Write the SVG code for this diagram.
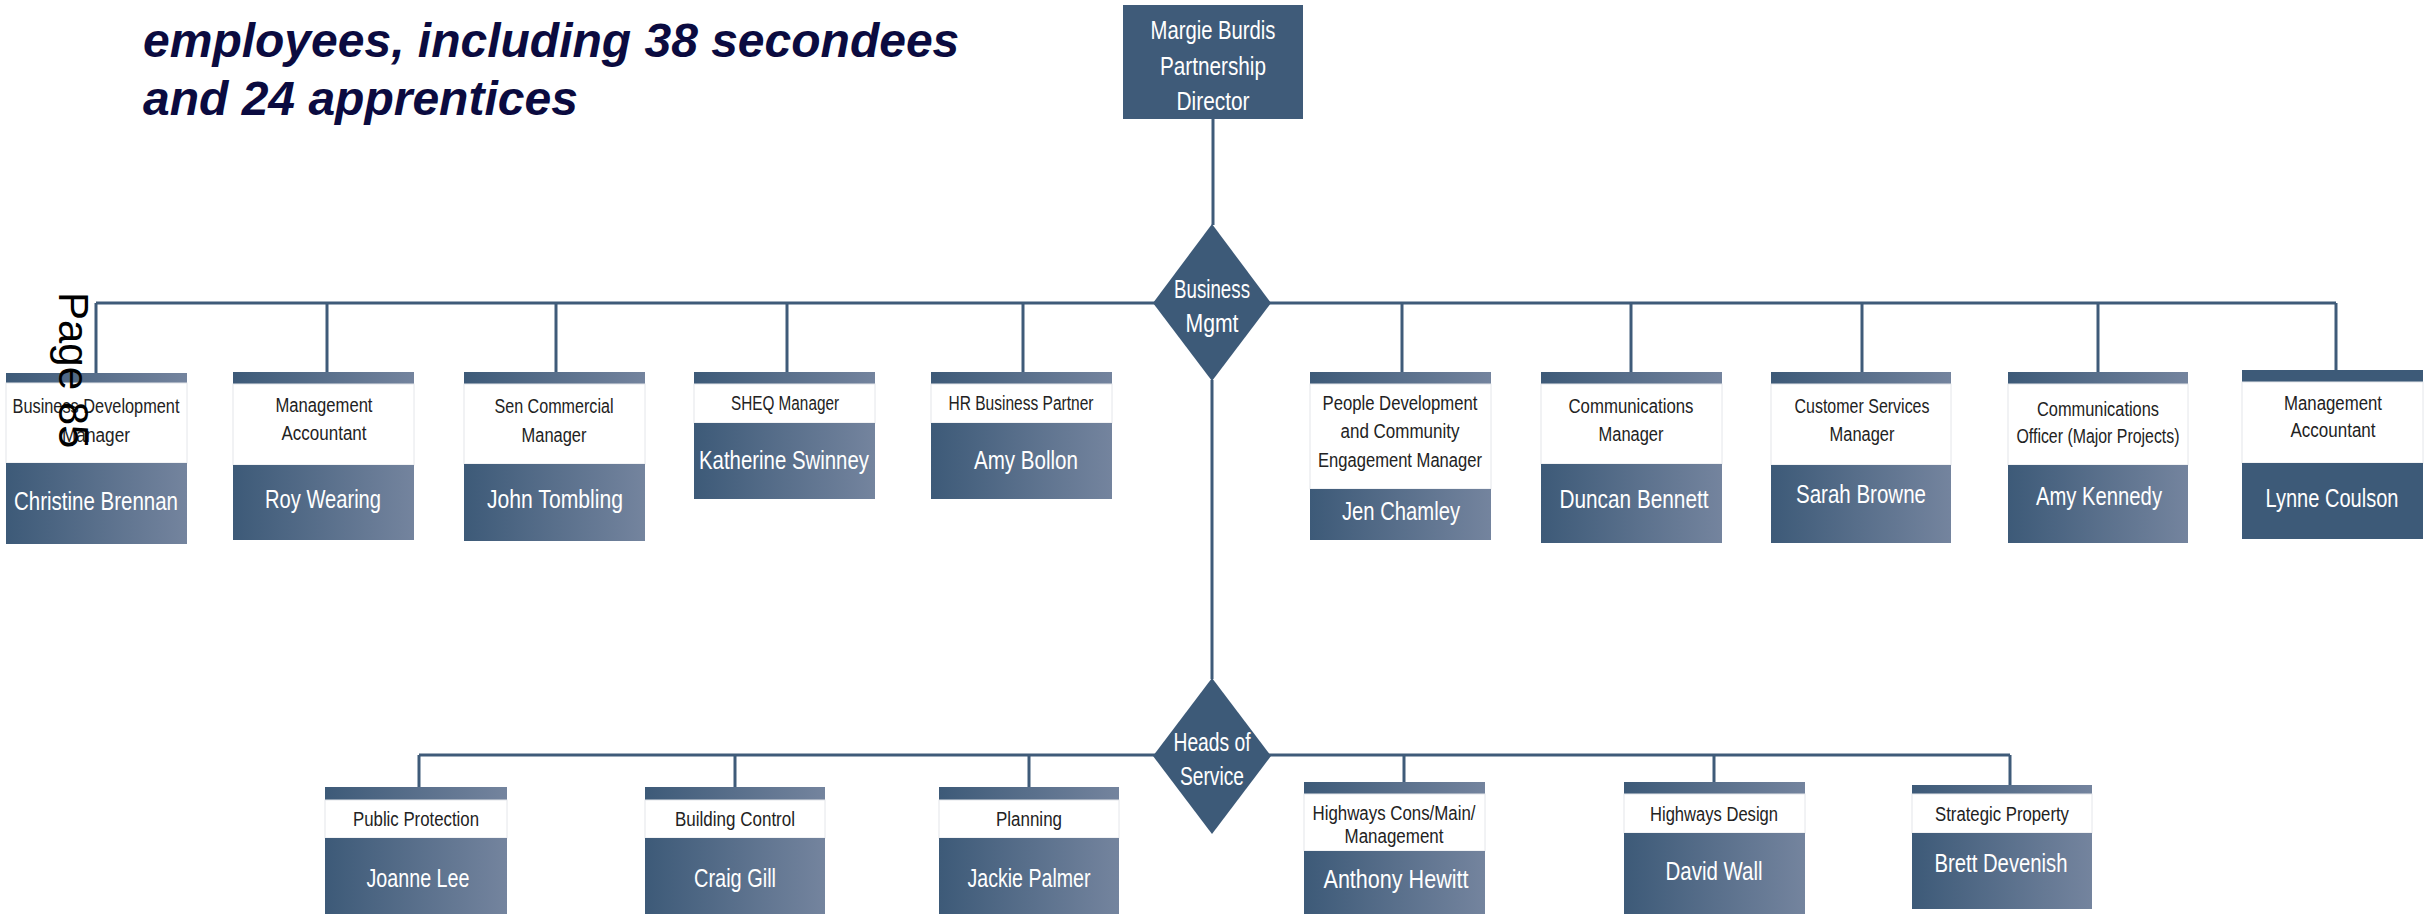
<svg xmlns="http://www.w3.org/2000/svg" width="2435" height="914" viewBox="0 0 2435 914">
<defs>
<linearGradient id="grad" x1="0" y1="0" x2="1" y2="0">
<stop offset="0" stop-color="#3d5a78"/>
<stop offset="1" stop-color="#74849e"/>
</linearGradient>
<style>
.bg{fill:#ffffff}
.ln{stroke:#3f5b79;stroke-width:3;fill:none}
.bar{fill:url(#grad)}
.dk{fill:url(#grad)}
.solid{fill:#3d5a78}
.wh{fill:#ffffff;stroke:#e4e6ea;stroke-width:1}
.tt{font-family:"Liberation Sans",Arial,sans-serif;font-size:20px;fill:#222222;text-anchor:middle}
.nm{font-family:"Liberation Sans",Arial,sans-serif;font-size:25px;fill:#ffffff;text-anchor:middle}
.dia{fill:#3d5a78}
.head{font-family:"Liberation Sans",Arial,sans-serif;font-weight:bold;font-style:italic;font-size:48px;fill:#0b0b40}
.page{font-family:"Liberation Sans",Arial,sans-serif;font-size:42px;fill:#000000}
</style>
</defs>
<rect class="bg" x="0" y="0" width="2435" height="914"/>

<g id="heading">
<text class="head" x="143" y="57">employees, including 38 secondees</text>
<text class="head" x="143" y="115">and 24 apprentices</text>
</g>

<g id="connectors">
<line class="ln" x1="1213" y1="119" x2="1213" y2="225"/>
<line class="ln" x1="96" y1="303" x2="2336" y2="303"/>
<line class="ln" x1="96" y1="303" x2="96" y2="373"/>
<line class="ln" x1="327" y1="303" x2="327" y2="372"/>
<line class="ln" x1="556" y1="303" x2="556" y2="372"/>
<line class="ln" x1="787" y1="303" x2="787" y2="372"/>
<line class="ln" x1="1023" y1="303" x2="1023" y2="372"/>
<line class="ln" x1="1402" y1="303" x2="1402" y2="372"/>
<line class="ln" x1="1631" y1="303" x2="1631" y2="372"/>
<line class="ln" x1="1862" y1="303" x2="1862" y2="372"/>
<line class="ln" x1="2098" y1="303" x2="2098" y2="372"/>
<line class="ln" x1="2336" y1="303" x2="2336" y2="370"/>
<line class="ln" x1="1212" y1="380" x2="1212" y2="679"/>
<line class="ln" x1="419" y1="755" x2="2010" y2="755"/>
<line class="ln" x1="419" y1="755" x2="419" y2="787"/>
<line class="ln" x1="735" y1="755" x2="735" y2="787"/>
<line class="ln" x1="1029" y1="755" x2="1029" y2="787"/>
<line class="ln" x1="1404" y1="755" x2="1404" y2="782"/>
<line class="ln" x1="1714" y1="755" x2="1714" y2="782"/>
<line class="ln" x1="2010" y1="755" x2="2010" y2="785"/>
</g>

<g id="director">
<rect x="1123" y="5" width="180" height="114" fill="#3f5b79"/>
<text class="nm" x="1213" y="39" textLength="125" lengthAdjust="spacingAndGlyphs">Margie Burdis</text>
<text class="nm" x="1213" y="75" textLength="106" lengthAdjust="spacingAndGlyphs">Partnership</text>
<text class="nm" x="1213" y="110" textLength="73" lengthAdjust="spacingAndGlyphs">Director</text>
</g>

<g id="business-mgmt">
<polygon class="dia" points="1212,224 1271,303 1212,381 1153,303"/>
<text class="nm" x="1212" y="298" textLength="76" lengthAdjust="spacingAndGlyphs">Business</text>
<text class="nm" x="1212" y="332" textLength="53" lengthAdjust="spacingAndGlyphs">Mgmt</text>
</g>

<g id="heads-of-service">
<polygon class="dia" points="1212,678 1271,756 1212,834 1153,756"/>
<text class="nm" x="1212" y="751" textLength="77" lengthAdjust="spacingAndGlyphs">Heads of</text>
<text class="nm" x="1212" y="785" textLength="64" lengthAdjust="spacingAndGlyphs">Service</text>
</g>

<g id="n-christine">
<rect class="bar" x="6" y="373" width="181" height="10"/>
<rect class="wh" x="6" y="383" width="181" height="80"/>
<rect class="dk" x="6" y="463" width="181" height="81"/>
<text class="tt" x="96" y="413" textLength="167" lengthAdjust="spacingAndGlyphs">Business Development</text>
<text class="tt" x="96" y="442" textLength="68" lengthAdjust="spacingAndGlyphs">Manager</text>
<text class="nm" x="96" y="510" textLength="164" lengthAdjust="spacingAndGlyphs">Christine Brennan</text>
</g>

<g id="n-roy">
<rect class="bar" x="233" y="372" width="181" height="12"/>
<rect class="wh" x="233" y="384" width="181" height="81"/>
<rect class="dk" x="233" y="465" width="181" height="75"/>
<text class="tt" x="324" y="412" textLength="97" lengthAdjust="spacingAndGlyphs">Management</text>
<text class="tt" x="324" y="440" textLength="85" lengthAdjust="spacingAndGlyphs">Accountant</text>
<text class="nm" x="323" y="508" textLength="116" lengthAdjust="spacingAndGlyphs">Roy Wearing</text>
</g>

<g id="n-john">
<rect class="bar" x="464" y="372" width="181" height="12"/>
<rect class="wh" x="464" y="384" width="181" height="80"/>
<rect class="dk" x="464" y="464" width="181" height="77"/>
<text class="tt" x="554" y="413" textLength="119" lengthAdjust="spacingAndGlyphs">Sen Commercial</text>
<text class="tt" x="554" y="442" textLength="65" lengthAdjust="spacingAndGlyphs">Manager</text>
<text class="nm" x="555" y="508" textLength="136" lengthAdjust="spacingAndGlyphs">John Tombling</text>
</g>

<g id="n-katherine">
<rect class="bar" x="694" y="372" width="181" height="12"/>
<rect class="wh" x="694" y="384" width="181" height="39"/>
<rect class="dk" x="694" y="423" width="181" height="76"/>
<text class="tt" x="785" y="410" textLength="108" lengthAdjust="spacingAndGlyphs">SHEQ Manager</text>
<text class="nm" x="784" y="469" textLength="170" lengthAdjust="spacingAndGlyphs">Katherine Swinney</text>
</g>

<g id="n-amy-bollon">
<rect class="bar" x="931" y="372" width="181" height="12"/>
<rect class="wh" x="931" y="384" width="181" height="39"/>
<rect class="dk" x="931" y="423" width="181" height="76"/>
<text class="tt" x="1021" y="410" textLength="145" lengthAdjust="spacingAndGlyphs">HR Business Partner</text>
<text class="nm" x="1026" y="469" textLength="104" lengthAdjust="spacingAndGlyphs">Amy Bollon</text>
</g>

<g id="n-jen">
<rect class="bar" x="1310" y="372" width="181" height="12"/>
<rect class="wh" x="1310" y="384" width="181" height="105"/>
<rect class="dk" x="1310" y="489" width="181" height="51"/>
<text class="tt" x="1400" y="410" textLength="155" lengthAdjust="spacingAndGlyphs">People Development</text>
<text class="tt" x="1400" y="438" textLength="119" lengthAdjust="spacingAndGlyphs">and Community</text>
<text class="tt" x="1400" y="467" textLength="164" lengthAdjust="spacingAndGlyphs">Engagement Manager</text>
<text class="nm" x="1401" y="520" textLength="118" lengthAdjust="spacingAndGlyphs">Jen Chamley</text>
</g>

<g id="n-duncan">
<rect class="bar" x="1541" y="372" width="181" height="12"/>
<rect class="wh" x="1541" y="384" width="181" height="80"/>
<rect class="dk" x="1541" y="464" width="181" height="79"/>
<text class="tt" x="1631" y="413" textLength="125" lengthAdjust="spacingAndGlyphs">Communications</text>
<text class="tt" x="1631" y="441" textLength="65" lengthAdjust="spacingAndGlyphs">Manager</text>
<text class="nm" x="1634" y="508" textLength="149" lengthAdjust="spacingAndGlyphs">Duncan Bennett</text>
</g>

<g id="n-sarah">
<rect class="bar" x="1771" y="372" width="180" height="12"/>
<rect class="wh" x="1771" y="384" width="180" height="81"/>
<rect class="dk" x="1771" y="465" width="180" height="78"/>
<text class="tt" x="1862" y="413" textLength="135" lengthAdjust="spacingAndGlyphs">Customer Services</text>
<text class="tt" x="1862" y="441" textLength="65" lengthAdjust="spacingAndGlyphs">Manager</text>
<text class="nm" x="1861" y="503" textLength="130" lengthAdjust="spacingAndGlyphs">Sarah Browne</text>
</g>

<g id="n-amy-kennedy">
<rect class="bar" x="2008" y="372" width="180" height="12"/>
<rect class="wh" x="2008" y="384" width="180" height="81"/>
<rect class="dk" x="2008" y="465" width="180" height="78"/>
<text class="tt" x="2098" y="416" textLength="122" lengthAdjust="spacingAndGlyphs">Communications</text>
<text class="tt" x="2098" y="443" textLength="163" lengthAdjust="spacingAndGlyphs">Officer (Major Projects)</text>
<text class="nm" x="2099" y="505" textLength="126" lengthAdjust="spacingAndGlyphs">Amy Kennedy</text>
</g>

<g id="n-lynne">
<rect class="solid" x="2242" y="370" width="181" height="12"/>
<rect class="wh" x="2242" y="382" width="181" height="81"/>
<rect class="solid" x="2242" y="463" width="181" height="76"/>
<text class="tt" x="2333" y="410" textLength="98" lengthAdjust="spacingAndGlyphs">Management</text>
<text class="tt" x="2333" y="437" textLength="85" lengthAdjust="spacingAndGlyphs">Accountant</text>
<text class="nm" x="2332" y="507" textLength="133" lengthAdjust="spacingAndGlyphs">Lynne Coulson</text>
</g>

<g id="n-joanne">
<rect class="bar" x="325" y="787" width="182" height="13"/>
<rect class="wh" x="325" y="800" width="182" height="38"/>
<rect class="dk" x="325" y="838" width="182" height="90"/>
<text class="tt" x="416" y="826" textLength="126" lengthAdjust="spacingAndGlyphs">Public Protection</text>
<text class="nm" x="418" y="887" textLength="103" lengthAdjust="spacingAndGlyphs">Joanne Lee</text>
</g>

<g id="n-craig">
<rect class="bar" x="645" y="787" width="180" height="13"/>
<rect class="wh" x="645" y="800" width="180" height="38"/>
<rect class="dk" x="645" y="838" width="180" height="90"/>
<text class="tt" x="735" y="826" textLength="120" lengthAdjust="spacingAndGlyphs">Building Control</text>
<text class="nm" x="735" y="887" textLength="82" lengthAdjust="spacingAndGlyphs">Craig Gill</text>
</g>

<g id="n-jackie">
<rect class="bar" x="939" y="787" width="180" height="13"/>
<rect class="wh" x="939" y="800" width="180" height="38"/>
<rect class="dk" x="939" y="838" width="180" height="90"/>
<text class="tt" x="1029" y="826" textLength="66" lengthAdjust="spacingAndGlyphs">Planning</text>
<text class="nm" x="1029" y="887" textLength="123" lengthAdjust="spacingAndGlyphs">Jackie Palmer</text>
</g>

<g id="n-anthony">
<rect class="bar" x="1304" y="782" width="181" height="12"/>
<rect class="wh" x="1304" y="794" width="181" height="57"/>
<rect class="dk" x="1304" y="851" width="181" height="77"/>
<text class="tt" x="1394" y="820" textLength="163" lengthAdjust="spacingAndGlyphs">Highways Cons/Main/</text>
<text class="tt" x="1394" y="843" textLength="99" lengthAdjust="spacingAndGlyphs">Management</text>
<text class="nm" x="1396" y="888" textLength="145" lengthAdjust="spacingAndGlyphs">Anthony Hewitt</text>
</g>

<g id="n-david">
<rect class="bar" x="1624" y="782" width="181" height="12"/>
<rect class="wh" x="1624" y="794" width="181" height="39"/>
<rect class="dk" x="1624" y="833" width="181" height="95"/>
<text class="tt" x="1714" y="821" textLength="128" lengthAdjust="spacingAndGlyphs">Highways Design</text>
<text class="nm" x="1714" y="880" textLength="97" lengthAdjust="spacingAndGlyphs">David Wall</text>
</g>

<g id="n-brett">
<rect class="bar" x="1912" y="785" width="180" height="9"/>
<rect class="wh" x="1912" y="794" width="180" height="39"/>
<rect class="dk" x="1912" y="833" width="180" height="76"/>
<text class="tt" x="2002" y="821" textLength="134" lengthAdjust="spacingAndGlyphs">Strategic Property</text>
<text class="nm" x="2001" y="872" textLength="133" lengthAdjust="spacingAndGlyphs">Brett Devenish</text>
</g>

<g id="page-number">
<text class="page" transform="translate(59,292) rotate(90)">Page 85</text>
</g>
</svg>
